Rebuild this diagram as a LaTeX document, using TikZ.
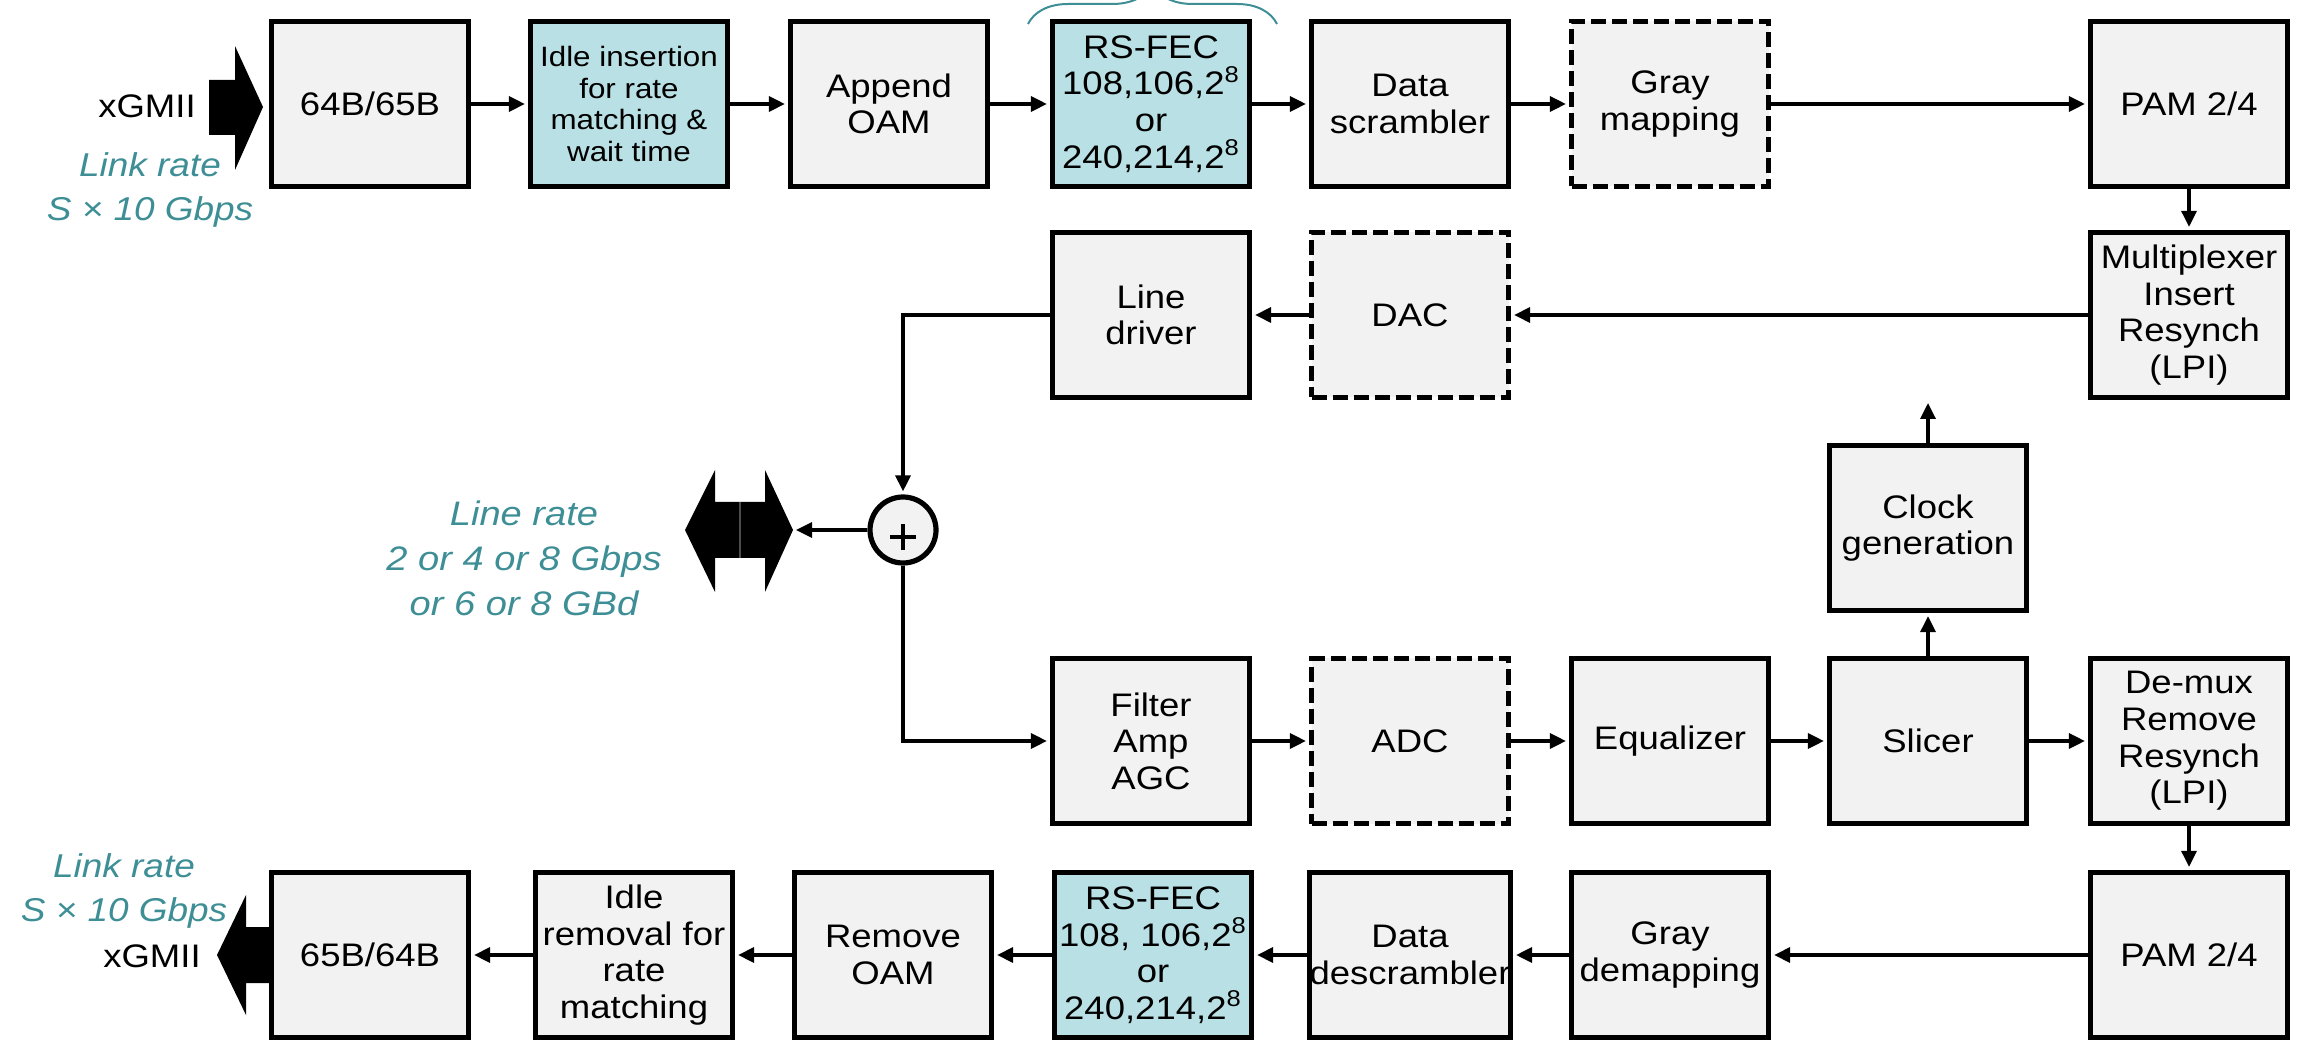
\documentclass[tikz,border=0pt]{standalone}
\usepackage{fontspec}
\setmainfont{Liberation Sans}[FakeStretch=1.12]
\usetikzlibrary{arrows.meta,decorations.pathreplacing}
\definecolor{boxgray}{RGB}{242,242,242}
\definecolor{tealfill}{RGB}{185,224,228}
\definecolor{tealtext}{RGB}{62,142,150}
\newcommand{\tightfont}[2]{\fontsize{#1}{#2}\selectfont\lineskiplimit=-100pt\relax\lineskip=0pt\relax}
\begin{document}
\begin{tikzpicture}[x=0.5pt,y=-0.5pt,
  blk/.style={draw=black, line width=2.6pt, fill=boxgray, minimum width=98.5pt, minimum height=82.5pt,
    inner sep=0pt, align=center, font={\tightfont{16.3}{18.3}}},
  tblk/.style={blk, fill=tealfill},
  dblk/.style={blk, dash pattern=on 7.5pt off 3pt},
  arr/.style={-{Triangle[length=8pt,width=7.5pt]}, line width=1.6pt, shorten >=1.5pt},
  lbl/.style={text=tealtext, font={\tightfont{16.5}{22}\itshape}, align=center, inner sep=0pt},
  plain/.style={font={\tightfont{16.3}{22}}, align=center, inner sep=0pt},
  sumnode/.style={circle, draw=black, line width=2.6pt, fill=boxgray, minimum size=33pt, inner sep=0pt}
]
\useasboundingbox (0,0) rectangle (2306,1052);

% Row 1
\node[blk] (enc) at (370,104) {64B/65B};
\node[tblk, font={\tightfont{14}{15.8}}] (idle) at (629,104) {Idle insertion\\for rate\\matching \&\\wait time};
\node[blk] (oam) at (889,104) {Append\\OAM};
\node[tblk] (fec) at (1151,104) {RS-FEC\\108,106,2\textsuperscript{8}\\or\\240,214,2\textsuperscript{8}};
\node[blk] (scr) at (1410,104) {Data\\scrambler};
\node[dblk] (gray) at (1670,104) {Gray\\mapping};
\node[blk] (pam) at (2189,104) {PAM 2/4};

% Row 2
\node[blk] (ld) at (1151,315) {Line\\driver};
\node[dblk] (dac) at (1410,315) {DAC};
\node[blk] (mux) at (2189,315) {Multiplexer\\Insert\\Resynch\\(LPI)};

% Clock
\node[blk] (clk) at (1928,528) {Clock\\generation};
\coordinate (clktip) at (1928,400);

% Row 3
\node[blk] (flt) at (1151,741) {Filter\\Amp\\AGC};
\node[dblk] (adc) at (1410,741) {ADC};
\node[blk] (eq) at (1670,741) {Equalizer};
\node[blk] (sl) at (1928,741) {Slicer};
\node[blk] (dmx) at (2189,741) {De-mux\\Remove\\Resynch\\(LPI)};

% Row 4
\node[blk] (dec) at (370,955) {65B/64B};
\node[blk] (idr) at (634,955) {Idle\\removal for\\rate\\matching};
\node[blk] (roam) at (893,955) {Remove\\OAM};
\node[tblk] (fec2) at (1153,955) {RS-FEC\\108, 106,2\textsuperscript{8}\\or\\240,214,2\textsuperscript{8}};
\node[blk] (dscr) at (1410,955) {Data\\descrambler};
\node[blk] (gdm) at (1670,955) {Gray\\demapping};
\node[blk] (pam2) at (2189,955) {PAM 2/4};

% Sum
\node[sumnode] (sum) at (903,530) {};
\draw[line width=2.2pt] ([shift={(-13,7)}]sum.center) -- ([shift={(13,7)}]sum.center);
\draw[line width=2.2pt] ([shift={(0,-6)}]sum.center) -- ([shift={(0,20)}]sum.center);
\coordinate (dbl) at (793,530);

% Double arrow (line)
\fill (685,530) -- (715,470) -- (715,502) -- (765,502) -- (765,470) -- (793,530) -- (765,592) -- (765,558) -- (715,558) -- (715,592) -- cycle;
\draw[line width=1pt, black!70] (740,502) -- (740,558);

% xGMII arrows
\fill (209,80) -- (235,80) -- (235,46) -- (263,107) -- (235,170) -- (235,135) -- (209,135) -- cycle;
\fill (272,927) -- (246,927) -- (246,895) -- (217,955) -- (246,1015) -- (246,983) -- (272,983) -- cycle;

% Labels
\node[plain] (xg1) at (147,106) {xGMII};
\node[lbl] (lr1) at (150,190) {Link rate\\S × 10 Gbps};
\node[lbl] (lr2) at (124,891) {Link rate\\S × 10 Gbps};
\node[plain] (xg2) at (152,956) {xGMII};
\node[lbl, font={\tightfont{17}{22.5}\itshape}] (lrate) at (524,558) {Line rate\\2 or 4 or 8 Gbps\\or 6 or 8 GBd};

% Brace
\draw[tealtext, line width=1pt, decorate, decoration={brace, amplitude=20pt}] (1028,24) -- (1277,24);

% Connectors row 1
\draw[arr] (enc) -- (idle);
\draw[arr] (idle) -- (oam);
\draw[arr] (oam) -- (fec);
\draw[arr] (fec) -- (scr);
\draw[arr] (scr) -- (gray);
\draw[arr] (gray) -- (pam);
\draw[arr] (pam) -- (mux);
% row 2
\draw[arr] (mux) -- (dac);
\draw[arr] (dac) -- (ld);
\draw[arr] (ld.west) -| (sum.north);
\draw[arr] (sum.west) -- (dbl);
\draw[arr] (sum.south) |- (flt.west);
% row 3
\draw[arr] (flt) -- (adc);
\draw[arr] (adc) -- (eq);
\draw[arr] (eq) -- (sl);
\draw[arr] (sl) -- (dmx);
\draw[arr] (sl) -- (clk);
\draw[arr] (clk) -- (clktip);
\draw[arr] (dmx) -- (pam2);
% row 4
\draw[arr] (pam2) -- (gdm);
\draw[arr] (gdm) -- (dscr);
\draw[arr] (dscr) -- (fec2);
\draw[arr] (fec2) -- (roam);
\draw[arr] (roam) -- (idr);
\draw[arr] (idr) -- (dec);
\end{tikzpicture}
\end{document}
